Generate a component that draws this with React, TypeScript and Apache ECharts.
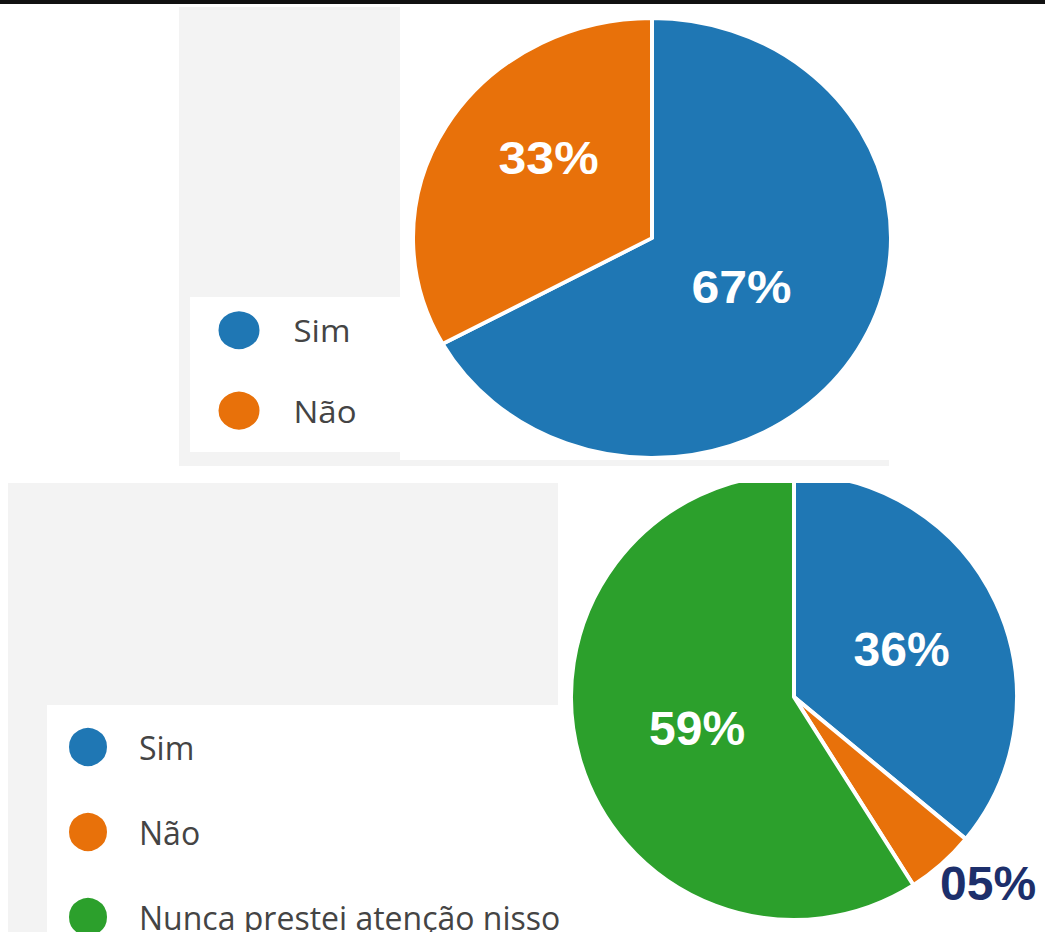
import React, { useEffect, useRef } from 'react';
import * as echarts from 'echarts';

const topCategories = ['Sim', 'Não'];
const topValues = [67, 33];
const bottomCategories = ['Sim', 'Não', 'Nunca prestei atenção nisso'];
const bottomValues = [36, 5, 59];
const sliceColors = ['#1f77b4', '#e8710a', '#2ca02c'];

const K = 0.92; // vertical squash of the upper (elliptical) chart
const labelFont = '"Liberation Sans", Arial, sans-serif';
const legendFont = '"Open Sans", "Noto Sans", sans-serif';

export default function App() {
  const topRef = useRef<HTMLDivElement>(null);
  const mainRef = useRef<HTMLDivElement>(null);

  useEffect(() => {
    const main = echarts.init(mainRef.current!, null, { renderer: 'svg' });
    const top = echarts.init(topRef.current!, null, { renderer: 'svg' });

    const pct = (p: any) => String(p.value).padStart(2, '0') + '%';

    top.setOption({
      animation: false,
      color: sliceColors,
      graphic: [
        { type: 'rect', shape: { x: 179, y: 7 / K, width: 221, height: 459 / K }, style: { fill: '#f3f3f3' } },
        { type: 'rect', shape: { x: 179, y: 460 / K, width: 710, height: 6 / K }, style: { fill: '#f3f3f3' } },
        { type: 'rect', shape: { x: 190, y: 297 / K, width: 210, height: 155 / K }, style: { fill: '#ffffff' } },
      ],
      legend: {
        orient: 'vertical',
        left: 216.5,
        top: 309.5 / K,
        height: 200,
        padding: 0,
        itemWidth: 43,
        itemHeight: 43 / K,
        itemGap: 82 / K - 43 / K,
        icon: 'circle',
        selectedMode: false,
        data: topCategories,
        textStyle: { fontSize: 33, color: '#444444', fontFamily: legendFont, padding: [0, 0, 0, 28] },
      },
      series: [
        {
          type: 'pie',
          center: [652, 238 / K],
          radius: 239,
          startAngle: 90,
          clockwise: true,
          avoidLabelOverlap: false,
          emphasis: { disabled: true },
          itemStyle: { borderColor: '#ffffff', borderWidth: 4 },
          label: {
            show: true,
            position: 'inside',
            formatter: pct,
            color: '#ffffff',
            fontSize: 50,
            fontWeight: 'bold',
            fontFamily: labelFont,
          },
          labelLine: { show: false },
          labelLayout: (p: any) => (p.dataIndex === 0 ? { dx: -16, dy: -9 } : { dx: 2, dy: -24 }),
          data: topCategories.map((name, i) => ({
            name,
            value: topValues[i],
            itemStyle: { color: sliceColors[i] },
          })),
        },
      ],
    });

    main.setOption({
      animation: false,
      color: sliceColors,
      graphic: [
        { type: 'rect', shape: { x: 0, y: 0, width: 1045, height: 4 }, style: { fill: '#111111' } },
        { type: 'rect', shape: { x: 8, y: 483, width: 550, height: 449 }, style: { fill: '#f3f3f3' } },
        { type: 'rect', shape: { x: 47, y: 705, width: 511, height: 227 }, style: { fill: '#ffffff' } },
        { type: 'rect', z: 100, shape: { x: 560, y: 466, width: 485, height: 17 }, style: { fill: '#ffffff' } },
      ],
      legend: {
        orient: 'vertical',
        left: 67,
        top: 726,
        height: 300,
        padding: 0,
        itemWidth: 40,
        itemHeight: 40,
        itemGap: 43,
        icon: 'circle',
        selectedMode: false,
        data: bottomCategories,
        textStyle: { fontSize: 32, color: '#444444', fontFamily: legendFont, padding: [0, 0, 6, 26] },
      },
      series: [
        {
          type: 'pie',
          center: [794, 697],
          radius: 223,
          startAngle: 90,
          clockwise: true,
          avoidLabelOverlap: false,
          emphasis: { disabled: true },
          itemStyle: { borderColor: '#ffffff', borderWidth: 4 },
          label: {
            show: true,
            position: 'inside',
            formatter: pct,
            color: '#ffffff',
            fontSize: 48,
            fontWeight: 'bold',
            fontFamily: labelFont,
          },
          labelLine: { show: false, length: 10, length2: 0 },
          labelLayout: (p: any) =>
            p.dataIndex === 1 ? { dx: -13, dy: 12 } : p.dataIndex === 2 ? { dx: 13, dy: 0 } : { dx: 4, dy: 1 },
          data: bottomCategories.map((name, i) => ({
            name,
            value: bottomValues[i],
            itemStyle: { color: sliceColors[i] },
            ...(i === 1
              ? { label: { position: 'outside', color: '#1d2f6b' }, labelLine: { show: false, length: 10, length2: 0 } }
              : {}),
          })),
        },
      ],
    });

    return () => {
      main.dispose();
      top.dispose();
    };
  }, []);

  return (
    <div style={{ position: 'absolute', left: 0, top: 0, width: 1045, height: 932, overflow: 'hidden', background: '#ffffff' }}>
      <div ref={mainRef} style={{ position: 'absolute', left: 0, top: 0, width: 1045, height: 932 }} />
      <div
        ref={topRef}
        style={{
          position: 'absolute',
          left: 0,
          top: 0,
          width: 1045,
          height: 510,
          transform: `scaleY(${K})`,
          transformOrigin: '0 0',
        }}
      />
    </div>
  );
}
